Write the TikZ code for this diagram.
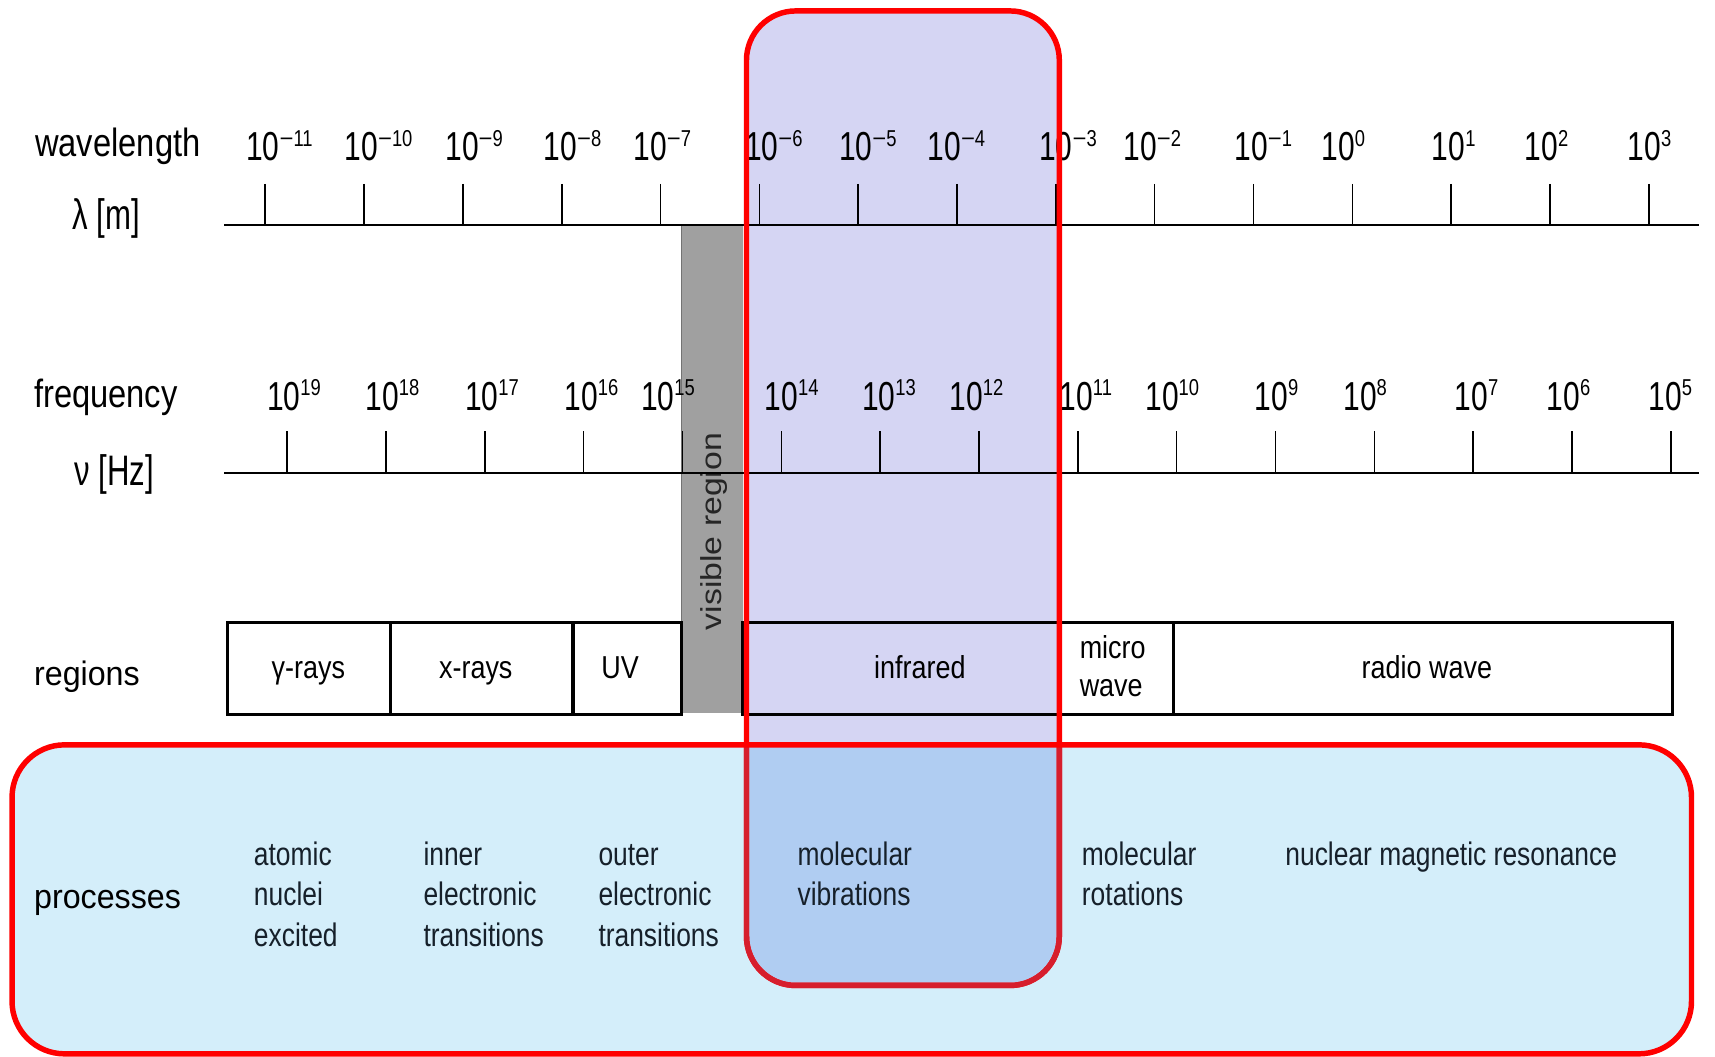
\documentclass[tikz,border=0pt]{standalone}
\usepackage{fontspec}
\usepackage{graphicx}
\setmainfont{Liberation Sans}
\newfontfamily\condfont[FakeStretch=0.81]{Liberation Sans}
\newfontfamily\regfont[FakeStretch=0.85]{Liberation Sans}
\newfontfamily\visfont[FakeStretch=1.17]{Liberation Sans}
\newfontfamily\tickfont[FakeStretch=0.74]{Liberation Sans}
\newfontfamily\supfont[FakeStretch=0.8]{Liberation Sans}
\newfontfamily\headfont[FakeStretch=0.83]{Liberation Sans}
\newfontfamily\unitfont[FakeStretch=0.73]{Liberation Sans}
\newfontfamily\sidefont[FakeStretch=0.95]{Liberation Sans}
\definecolor{lav}{RGB}{213,213,243}
\definecolor{procblue}{RGB}{212,238,250}
\definecolor{overlapblue}{RGB}{176,205,242}
\definecolor{visgray}{RGB}{160,160,160}
\definecolor{hired}{RGB}{255,0,0}
\definecolor{darkred}{RGB}{214,30,45}
\definecolor{proctext}{RGB}{22,32,42}
\newcommand{\pw}[1]{10\raisebox{13.5pt}{\supfont\fontsize{21}{22}\selectfont #1}}
\newcommand{\mn}{\scalebox{1.3}[1]{−}}
\tikzset{
  axisline/.style={line width=1.8pt, black},
  tickline/.style={line width=1.4pt, black},
  headlbl/.style={inner sep=0pt, anchor=base west, font=\headfont\fontsize{36}{40}\selectfont},
  unitlbl/.style={inner sep=0pt, anchor=base west, font=\unitfont\fontsize{39}{44}\selectfont},
  sidelbl/.style={inner sep=0pt, anchor=base west, font=\sidefont\fontsize{31}{36}\selectfont},
  ticklbl/.style={inner sep=0pt, anchor=base west, font=\tickfont\fontsize{37}{40}\selectfont},
  regbox/.style={line width=3pt, black},
  reglbl/.style={inner sep=0pt, anchor=base, font=\regfont\fontsize{29}{36}\selectfont},
  proclbl/.style={inner sep=0pt, anchor=base west, text=proctext, font=\condfont\fontsize{29.8}{37.5}\selectfont},
  redborder/.style={line width=5pt, draw=hired},
}
\begin{document}
\begin{tikzpicture}[x=1pt,y=-1pt]
\path[use as bounding box, fill=white] (0,0) rectangle (1568,966);

% fills
\fill[lav, rounded corners=45pt] (682.5,10) rectangle (968.5,901);
\fill[procblue, rounded corners=48pt] (11,681) rectangle (1546.5,963.5);
\begin{scope}
  \clip[rounded corners=48pt] (11,681) rectangle (1546.5,963.5);
  \fill[overlapblue, rounded corners=45pt] (682.5,10) rectangle (968.5,901);
\end{scope}

% visible region bar
\fill[visgray] (622.6,205.7) rectangle (679,652);
\draw[black!55, line width=0.8pt] (622.6,205.7) -- (622.6,652);
\node[inner sep=0pt, rotate=90, text=black!85, font=\visfont\fontsize{26.4}{30}\selectfont] (vis) at (653,486) {visible region};

% axes
\draw[axisline] (205,205.7) coordinate (wlA) -- (1553,205.7) coordinate (wlB);
\foreach \i in {0,...,14} \draw[tickline] ({242.5+90.36*\i},168) -- ({242.5+90.36*\i},205.7);
\draw[axisline] (205,432.7) coordinate (frA) -- (1553,432.7) coordinate (frB);
\foreach \i in {0,...,14} \draw[tickline] ({262.5+90.36*\i},394.5) -- ({262.5+90.36*\i},432.7);

% tick labels
\foreach \x/\e [count=\k] in {225/\mn11,315/\mn10,407/\mn9,497/\mn8,579/\mn7,681/\mn6,767/\mn5,848/\mn4,950/\mn3,1027/\mn2,1128.5/\mn1,1208/0,1309/1,1394/2,1488/3}
  \node[ticklbl] (wl\k) at (\x,147) {\pw{\e}};
\foreach \x/\e [count=\k] in {244/19,334/18,425/17,516/16,586/15,699/14,788/13,868/12,968.6/11,1047/10,1147/9,1228/8,1330/7,1414/6,1507/5}
  \node[ticklbl] (fr\k) at (\x,375) {\pw{\e}};

% left labels
\node[headlbl] (lwave) at (32,143.5) {wavelength};
\node[unitlbl] (llam) at (66,210) {λ [m]};
\node[headlbl] (lfreq) at (31,373) {frequency};
\node[unitlbl] (lnu) at (68,444) {ν [Hz]};
\node[sidelbl] (lreg) at (31,627) {regions};
\node[sidelbl] (lproc) at (31,831) {processes};

% region boxes
\draw[regbox] (208,569.3) rectangle (623.4,653);
\draw[regbox] (357,569.3) -- (357,653);
\draw[regbox] (524,569.3) -- (524,653);
\draw[regbox] (679,569.3) rectangle (1529,653);
\draw[regbox] (968,569.3) -- (968,653);
\draw[regbox] (1073,569.3) -- (1073,653);
\node[reglbl] (rgam) at (282,620) {γ-rays};
\node[reglbl] (rx) at (435,620) {x-rays};
\node[reglbl] (ruv) at (567,620) {UV};
\node[reglbl] (rir) at (841,620) {infrared};
\node[reglbl, anchor=base west] (rmw1) at (987,601.7) {micro};
\node[reglbl, anchor=base west] (rmw2) at (987,637) {wave};
\node[reglbl] (rrad) at (1304.6,620) {radio wave};

% processes
\node[proclbl] (p1a) at (232,791) {atomic};
\node[proclbl] (p1b) at (232,828) {nuclei};
\node[proclbl] (p1c) at (232,865) {excited};
\node[proclbl] (p2a) at (387,791) {inner};
\node[proclbl] (p2b) at (387,828) {electronic};
\node[proclbl] (p2c) at (387,865) {transitions};
\node[proclbl] (p3a) at (547,791) {outer};
\node[proclbl] (p3b) at (547,828) {electronic};
\node[proclbl] (p3c) at (547,865) {transitions};
\node[proclbl] (p4a) at (729,791) {molecular};
\node[proclbl] (p4b) at (729,828) {vibrations};
\node[proclbl] (p5a) at (989,791) {molecular};
\node[proclbl] (p5b) at (989,828) {rotations};
\node[proclbl] (p6) at (1175,791) {nuclear magnetic resonance};

% borders
\draw[redborder, rounded corners=45pt] (682.5,10) rectangle (968.5,901);
\begin{scope}
  \clip[rounded corners=48pt] (11,681) rectangle (1546.5,963.5);
  \draw[line width=5pt, darkred, rounded corners=45pt] (682.5,10) rectangle (968.5,901);
\end{scope}
\draw[redborder, rounded corners=48pt] (11,681) rectangle (1546.5,963.5);
\end{tikzpicture}
\end{document}
